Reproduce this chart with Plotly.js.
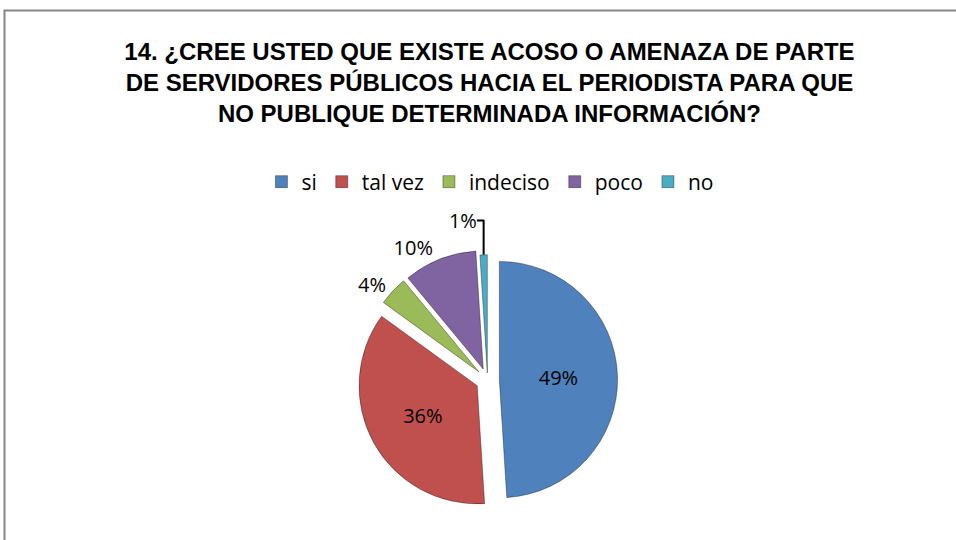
<!DOCTYPE html>
<html>
<head>
<meta charset="utf-8">
<script src="https://cdn.plot.ly/plotly-3.0.1.min.js"></script>
<style>
html,body{margin:0;padding:0;background:#fff;}
#chart{width:956px;height:540px;}
</style>
</head>
<body>
<div id="chart"></div>
<script>
const categories = ["si", "tal vez", "indeciso", "poco", "no"];
const values = [49, 36, 4, 10, 1];
const colors = ["#4F81BD", "#C0504D", "#9BBB59", "#8064A2", "#4BACC6"];
const labelPositions = ["inside", "inside", "outside", "outside", "outside"];
const titleText = "14. ¿CREE USTED QUE EXISTE ACOSO O AMENAZA DE PARTE<br>DE SERVIDORES PÚBLICOS HACIA EL PERIODISTA PARA QUE<br>NO PUBLIQUE DETERMINADA INFORMACIÓN?";

const W = 956, H = 540;
const trace = {
  type: "pie",
  labels: categories,
  values: values,
  sort: false,
  direction: "clockwise",
  rotation: 0,
  marker: {colors: colors, line: {color: "rgba(0,0,0,0.35)", width: 1}},
  pull: [0.1, 0.1, 0.1, 0.1, 0.06],
  textinfo: "percent",
  texttemplate: "%{percent:.0%}",
  textposition: labelPositions,
  insidetextfont: {color: "#000", size: 20, family: "Open Sans, Liberation Sans, sans-serif"},
  outsidetextfont: {color: "#000", size: 20, family: "Open Sans, Liberation Sans, sans-serif"},
  domain: {x: [0.28, 0.74], y: [1 - 510/540, 1 - 250/540]},
  hoverinfo: "label+percent",
  showlegend: true
};

const layout = {
  width: W, height: H,
  margin: {l: 0, r: 0, t: 0, b: 0},
  paper_bgcolor: "#fff",
  title: {
    text: titleText,
    font: {family: "Liberation Sans, Arial, sans-serif", size: 24, color: "#000", weight: "bold"},
    x: 0.512, xanchor: "center",
    y: 1 - 60/540, yanchor: "top", yref: "container"
  },
  legend: {
    orientation: "h",
    x: 0.513, xanchor: "center",
    y: 1 - 182/540, yanchor: "middle",
    font: {family: "Open Sans, Liberation Sans, sans-serif", size: 21, color: "#000"},
    itemclick: false
  },
  shapes: [{
    type: "path", xref: "paper", yref: "paper",
    path: "M " + (4.5/W) + " 0 L " + (4.5/W) + " " + (1 - 10.5/H) + " L 1 " + (1 - 10.5/H),
    line: {color: "#868686", width: 2}
  }]
};

Plotly.newPlot("chart", [trace], layout, {displayModeBar: false, staticPlot: true});
</script>
</body>
</html>
